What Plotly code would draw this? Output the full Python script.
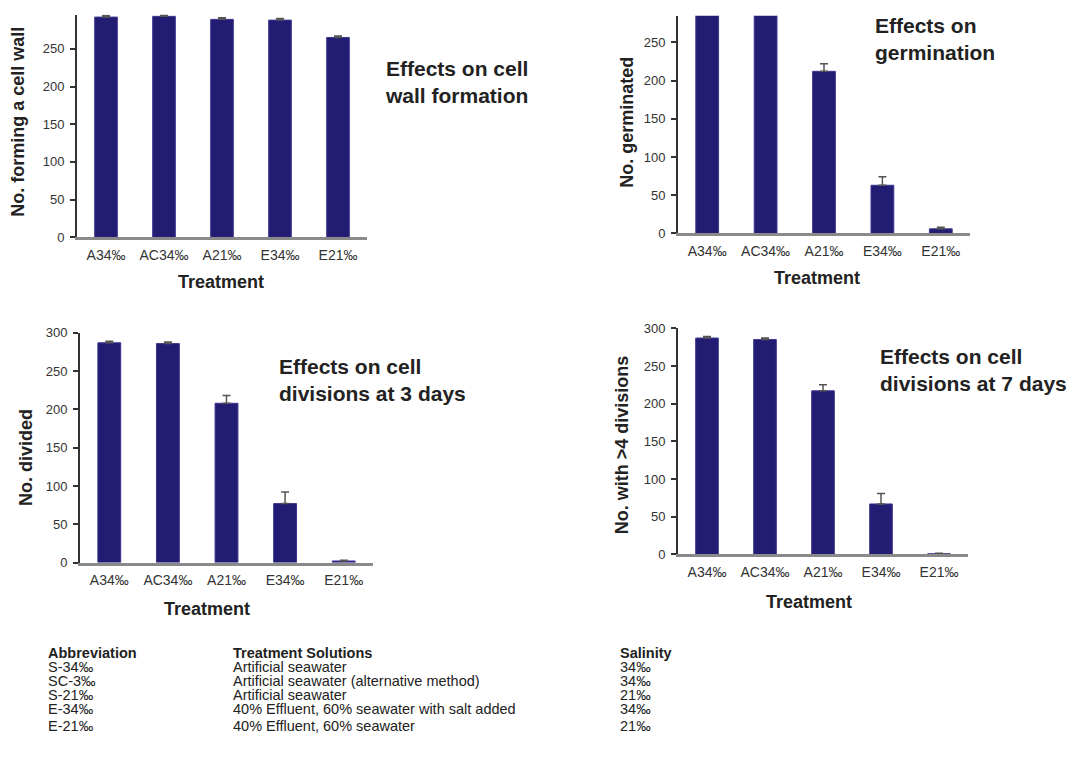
import plotly.graph_objects as go

W, H = 1074, 760

# ---------------- data ----------------
categories = ["A34‰", "AC34‰", "A21‰", "E34‰", "E21‰"]

wall_vals = [292, 293, 289, 288, 265]
wall_err = [2, 2, 2, 2, 2]

germ_vals = [292, 293, 212, 63, 6]
germ_err = [3, 3, 10, 11, 2]

div3_vals = [287, 286, 208, 77, 2]
div3_err = [2, 2, 10, 15, 1]

div7_vals = [287, 285, 217, 67, 1]
div7_err = [2, 2, 8, 14, 0.5]

y_ticks = [0, 50, 100, 150, 200, 250, 300]

panel_titles = [
    "Effects on cell<br>wall formation",
    "Effects on<br>germination",
    "Effects on cell<br>divisions at 3 days",
    "Effects on cell<br>divisions at 7 days",
]
y_titles = ["No. forming a cell wall", "No. germinated", "No. divided", "No. with >4 divisions"]
x_title = "Treatment"

table_headers = ["Abbreviation", "Treatment Solutions", "Salinity"]
table_abbrev = ["S-34‰", "SC-3‰", "S-21‰", "E-34‰", "E-21‰"]
table_solutions = [
    "Artificial seawater",
    "Artificial seawater (alternative method)",
    "Artificial seawater",
    "40% Effluent, 60% seawater with salt added",
    "40% Effluent, 60% seawater",
]
table_salinity = ["34‰", "34‰", "21‰", "34‰", "21‰"]

# ---------------- layout helpers (pixel -> paper) ----------------
def px(x):
    return x / W

def py(y):
    return 1 - y / H

FONT = "Liberation Sans, Arial, sans-serif"
BAR_COLOR = "#221c72"
TEXT = "#222222"

# panel geometry: (x0, x1, y_zero_px, y_top_px, y_range_top)
panels = [
    (77, 367, 235, 8, 295),
    (678, 970, 231, 9, 284.6),
    (80, 373, 566.7, 332.4, 300),
    (678, 968, 558.5, 327.7, 300),
]
series = [
    (wall_vals, wall_err),
    (germ_vals, germ_err),
    (div3_vals, div3_err),
    (div7_vals, div7_err),
]

fig = go.Figure()
layout = dict(
    width=W, height=H,
    margin=dict(l=0, r=0, t=0, b=0),
    paper_bgcolor="white", plot_bgcolor="white",
    showlegend=False,
    font=dict(family=FONT, color=TEXT),
)

annotations = []

for i, ((x0, x1, yz, yt, ytop), (vals, errs)) in enumerate(zip(panels, series)):
    n = "" if i == 0 else str(i + 1)
    fig.add_trace(go.Bar(
        x=categories, y=vals,
        xaxis="x" + n, yaxis="y" + n,
        width=0.39,
        marker=dict(color=BAR_COLOR, line=dict(color="#3b3590", width=1)),
        error_y=dict(type="data", symmetric=False, array=errs,
                     arrayminus=[0] * len(errs),
                     color="#555555", thickness=1.5, width=4),
    ))
    layout["xaxis" + n] = dict(
        domain=[px(x0), px(x1)], anchor="y" + n,
        type="category",
        showline=True, linecolor="#8a8a8a", linewidth=3,
        showgrid=False, zeroline=False, ticks="",
        ticklabelstandoff=3,
        tickfont=dict(size=14, color="#333333", family=FONT),
        fixedrange=True,
    )
    layout["yaxis" + n] = dict(
        domain=[py(yz), py(yt)], anchor="x" + n,
        range=[0, ytop],
        tickvals=y_ticks,
        showline=True, linecolor="#333333", linewidth=2,
        ticks="outside", ticklen=5, tickwidth=1.5, tickcolor="#333333",
        ticklabelstandoff=3,
        showgrid=False, zeroline=False,
        tickfont=dict(size=13, color="#333333", family=FONT),
        fixedrange=True,
    )

# panel titles (left x, center y)
title_pos = [(383, 77), (873, 33), (277, 380), (878, 370)]
for t, (x, y) in zip(panel_titles, title_pos):
    annotations.append(dict(
        text=t, x=px(x), y=py(y), xref="paper", yref="paper",
        xanchor="left", yanchor="middle", align="left", showarrow=False,
        font=dict(size=21, family=FONT, color=TEXT, weight="bold"),
    ))

# y-axis titles (center positions)
ytitle_pos = [(18, 117), (627, 118), (26, 460), (622, 447)]
for t, (x, y) in zip(y_titles, ytitle_pos):
    annotations.append(dict(
        text=t, x=px(x), y=py(y), xref="paper", yref="paper",
        xanchor="center", yanchor="middle", textangle=-90, showarrow=False,
        font=dict(size=18, family=FONT, color=TEXT, weight="bold"),
    ))

# x-axis titles
xtitle_pos = [(221, 281), (817, 276), (207, 614), (809, 607)]
for (x, y) in xtitle_pos:
    annotations.append(dict(
        text=x_title, x=px(x), y=py(y), xref="paper", yref="paper",
        xanchor="center", yanchor="middle", showarrow=False,
        font=dict(size=18, family=FONT, color=TEXT, weight="bold"),
    ))

# table
col_x = [47, 232, 619]
header_y = 659
row_y = [673.5, 688, 702, 716, 733]
for hx, h in zip(col_x, table_headers):
    annotations.append(dict(
        text=h, x=px(hx), y=py(header_y), xref="paper", yref="paper",
        xanchor="left", yanchor="middle", showarrow=False, borderpad=0,
        font=dict(size=14.5, family=FONT, color=TEXT, weight="bold"),
    ))
for col, cx in zip([table_abbrev, table_solutions, table_salinity], col_x):
    for txt, ry in zip(col, row_y):
        annotations.append(dict(
            text=txt, x=px(cx), y=py(ry), xref="paper", yref="paper",
            xanchor="left", yanchor="middle", showarrow=False, borderpad=0,
            font=dict(size=14.5, family=FONT, color=TEXT),
        ))

layout["annotations"] = annotations
fig.update_layout(**layout)

fig.write_html(
    "out.html",
    config={"displayModeBar": False},
    post_script="document.body.style.margin='0';document.body.style.overflow='hidden';",
)
